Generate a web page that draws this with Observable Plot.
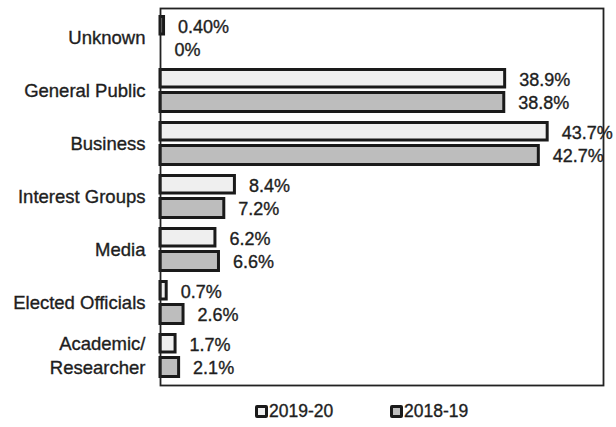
<!DOCTYPE html>
<html>
<head>
<meta charset="utf-8">
<script src="https://cdn.jsdelivr.net/npm/d3@7"></script>
<script src="https://cdn.jsdelivr.net/npm/@observablehq/plot@0.6"></script>
<style>
  body { margin: 0; background: #fff; font-family: "Liberation Sans", Arial, sans-serif; }
  #legend { height: 32px; font-size: 17.5px; color: #1e1e1e; -webkit-text-stroke: 0.35px #1e1e1e; }
  .item { display: flex; align-items: center; position: absolute; }
  .sw { width: 7px; height: 7px; border: 3px solid #1a1a1a; border-radius: 2px; margin-right: 1px; }
  svg text { stroke: #1e1e1e; stroke-width: 0.35px; paint-order: stroke; }
</style>
</head>
<body>
<div id="chart"></div>
<div id="legend" style="position:relative"></div>
<script>
const categories = ["Unknown", "General Public", "Business", "Interest Groups", "Media", "Elected Officials", "Academic/\nResearcher"];
const series = ["2019-20", "2018-19"];
const v2019 = [0.4, 38.9, 43.7, 8.4, 6.2, 0.7, 1.7];
const v2018 = [0, 38.8, 42.7, 7.2, 6.6, 2.6, 2.1];
const l2019 = ["0.40%", "38.9%", "43.7%", "8.4%", "6.2%", "0.7%", "1.7%"];
const l2018 = ["0%", "38.8%", "42.7%", "7.2%", "6.6%", "2.6%", "2.1%"];
const colors = ["#efefef", "#bdbdbd"];

const d19 = categories.map((c, i) => ({cat: c, v: v2019[i], label: l2019[i]}));
const d18 = categories.map((c, i) => ({cat: c, v: v2018[i], label: l2018[i]}));

const ink = "#1e1e1e";
const textStyle = {fill: ink, fontSize: 18};

const chart = Plot.plot({
  width: 616,
  height: 395,
  marginLeft: 160,
  marginRight: 13,
  marginTop: 8,
  marginBottom: 10,
  style: {fontFamily: "'Liberation Sans', Arial, sans-serif", fontSize: "18px", color: ink, background: "#fff"},
  x: {domain: [0, 50], axis: null},
  y: {domain: categories, padding: 0, axis: null},
  marks: [
    Plot.barX(d19.filter(d => d.v > 0), {x: "v", y: "cat", fill: colors[0], stroke: "#1a1a1a", strokeWidth: 3, insetTop: 5.5, insetBottom: 30}),
    Plot.barX(d18.filter(d => d.v > 0), {x: "v", y: "cat", fill: colors[1], stroke: "#1a1a1a", strokeWidth: 3, insetTop: 28.5, insetBottom: 5.5}),
    Plot.text(d19, {x: "v", y: "cat", text: "label", textAnchor: "start", dx: 14, dy: -11, ...textStyle}),
    Plot.text(d18, {x: "v", y: "cat", text: "label", textAnchor: "start", dx: 14, dy: 12, ...textStyle}),
    Plot.axisY({tickSize: 0, tickPadding: 15, label: null, lineHeight: 1.3, dy: -2, fill: ink, fontSize: 18.5}),
    Plot.frame({stroke: "#222", strokeWidth: 1.8})
  ]
});
document.getElementById("chart").appendChild(chart);

const legend = document.getElementById("legend");
const lx = [255, 390];
series.forEach((s, i) => {
  const item = document.createElement("div");
  item.className = "item";
  item.style.left = lx[i] + "px";
  item.style.top = "6px";
  const sw = document.createElement("span");
  sw.className = "sw";
  sw.style.background = colors[i];
  const t = document.createElement("span");
  t.textContent = s;
  item.appendChild(sw);
  item.appendChild(t);
  legend.appendChild(item);
});
</script>
</body>
</html>
